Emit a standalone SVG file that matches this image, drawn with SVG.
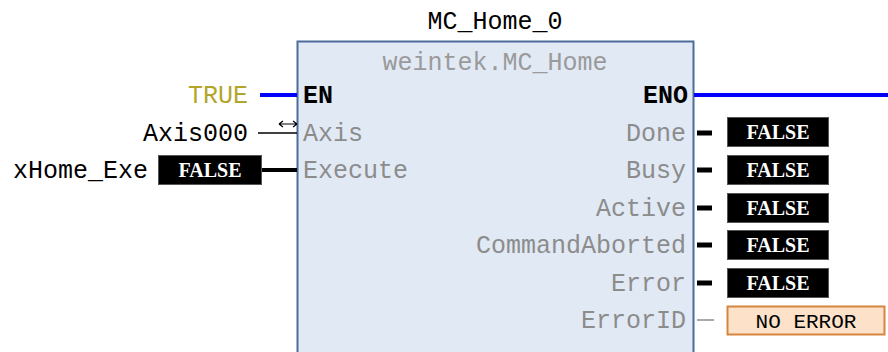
<svg xmlns="http://www.w3.org/2000/svg" width="888" height="352" viewBox="0 0 888 352">
<style>
.t{font-family:"Liberation Mono","Courier New",monospace;font-size:25px}
.lbl{fill:#000}
.pin{fill:#8c8c8c}
.bold{font-weight:bold}
.val{font-family:"Liberation Serif","Times New Roman",serif;font-size:20px;font-weight:bold;fill:#fff}
.vbox{fill:#000;stroke:#555;stroke-width:1}
.out{stroke:#000;stroke-width:5}
</style>
<rect width="888" height="352" fill="#fff"/>
<g id="fb">
<rect x="297.5" y="41.5" width="396" height="320" fill="#e1e9f5" stroke="#4d6c9c" stroke-width="2"/>
<text class="t lbl" x="495" y="29" text-anchor="middle">MC_Home_0</text>
<text class="t" x="495" y="70" text-anchor="middle" fill="#9a9a9a">weintek.MC_Home</text>
<text class="t lbl bold" x="303" y="103">EN</text>
<text class="t pin" x="303" y="141">Axis</text>
<text class="t pin" x="303" y="178">Execute</text>
<text class="t lbl bold" x="688" y="103" text-anchor="end">ENO</text>
<text class="t pin" x="686" y="141" text-anchor="end">Done</text>
<text class="t pin" x="686" y="178" text-anchor="end">Busy</text>
<text class="t pin" x="686" y="216" text-anchor="end">Active</text>
<text class="t pin" x="686" y="253" text-anchor="end">CommandAborted</text>
<text class="t pin" x="686" y="291" text-anchor="end">Error</text>
<text class="t pin" x="686" y="328" text-anchor="end">ErrorID</text>
</g>
<g id="connectors">
<line x1="260" y1="95" x2="297" y2="95" stroke="#0000ff" stroke-width="4"/>
<line x1="694" y1="95" x2="888" y2="95" stroke="#0000ff" stroke-width="4"/>
<line x1="258" y1="133" x2="297" y2="133" stroke="#000" stroke-width="1.5"/>
<path d="M279 124 H297 M279 124 l4 -3 M279 124 l4 3 M297 124 l-4 -3 M297 124 l-4 3" stroke="#000" stroke-width="1.2" fill="none"/>
<line x1="261" y1="170" x2="297" y2="170" stroke="#000" stroke-width="4"/>
<line class="out" x1="697" y1="133" x2="712" y2="133"/>
<line class="out" x1="697" y1="170" x2="712" y2="170"/>
<line class="out" x1="697" y1="208" x2="712" y2="208"/>
<line class="out" x1="697" y1="245" x2="712" y2="245"/>
<line class="out" x1="697" y1="283" x2="712" y2="283"/>
<line x1="697" y1="320" x2="714" y2="320" stroke="#8c8c8c" stroke-width="1.5"/>
</g>
<g id="in_true"><text class="t" x="248" y="103" text-anchor="end" fill="#b3a52a">TRUE</text></g>
<g id="in_axis"><text class="t lbl" x="248" y="141" text-anchor="end">Axis000</text></g>
<g id="in_exe">
<text class="t lbl" x="148" y="178" text-anchor="end">xHome_Exe</text>
<rect class="vbox" x="158.5" y="155.5" width="103" height="29"/>
<text class="val" x="210" y="177" text-anchor="middle">FALSE</text>
</g>
<g id="out_done"><rect class="vbox" x="727.5" y="117.5" width="101" height="29"/><text class="val" x="778" y="139" text-anchor="middle">FALSE</text></g>
<g id="out_busy"><rect class="vbox" x="727.5" y="155.5" width="101" height="29"/><text class="val" x="778" y="177" text-anchor="middle">FALSE</text></g>
<g id="out_active"><rect class="vbox" x="727.5" y="193.5" width="101" height="29"/><text class="val" x="778" y="215" text-anchor="middle">FALSE</text></g>
<g id="out_abort"><rect class="vbox" x="727.5" y="230.5" width="101" height="29"/><text class="val" x="778" y="252" text-anchor="middle">FALSE</text></g>
<g id="out_error"><rect class="vbox" x="727.5" y="268.5" width="101" height="29"/><text class="val" x="778" y="290" text-anchor="middle">FALSE</text></g>
<g id="out_errid"><rect x="727.5" y="306.5" width="157" height="28" fill="#fde2c9" stroke="#d5853f" stroke-width="2"/><text x="806" y="328" text-anchor="middle" font-family="Liberation Mono, monospace" font-size="21" fill="#000">NO ERROR</text></g>
</svg>
